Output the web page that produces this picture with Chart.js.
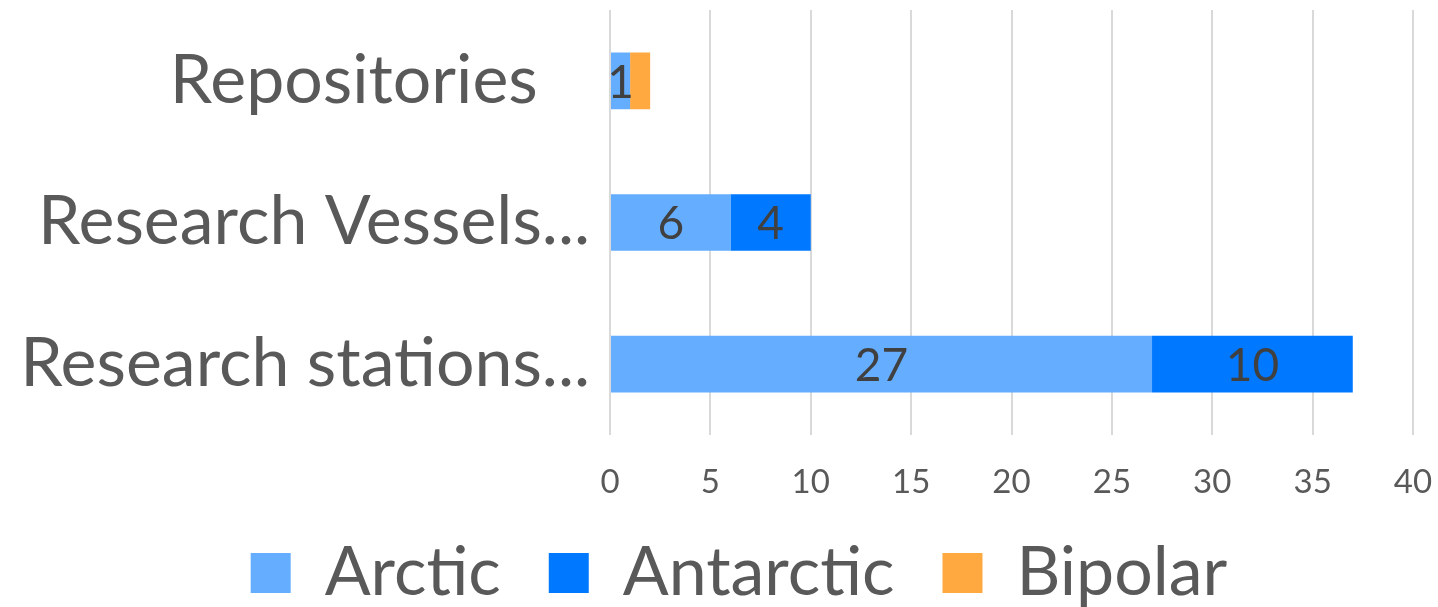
<!DOCTYPE html>
<html>
<head>
<meta charset="utf-8">
<script src="https://cdn.jsdelivr.net/npm/chart.js@4/dist/chart.umd.min.js"></script>
<style>
  body { margin: 0; background: #fff; }
  #wrap { width: 1438px; height: 607px; }
</style>
</head>
<body>
<div id="wrap"><canvas id="polarChart" width="1438" height="607"></canvas></div>
<script>
// Chart data
var categories = ['Repositories', 'Research Vessels...', 'Research stations...'];
var arcticValues = [1, 6, 27];
var antarcticValues = [0, 4, 10];
var bipolarValues = [1, 0, 0];
var xTicks = [0, 5, 10, 15, 20, 25, 30, 35, 40];

var FONT = 'Lato, "Open Sans", sans-serif';

// simple data labels drawn at the middle of each bar segment
var barLabels = {
    id: 'barLabels',
    afterDatasetsDraw: function(chart) {
        var ctx = chart.ctx;
        ctx.save();
        ctx.font = '46px ' + FONT;
        ctx.fillStyle = '#404040';
        ctx.textAlign = 'center';
        ctx.textBaseline = 'middle';
        chart.data.datasets.forEach(function(ds, i) {
            if (!ds.showLabels) return;
            chart.getDatasetMeta(i).data.forEach(function(bar, j) {
                var v = ds.data[j];
                if (!v) return;
                ctx.fillText(String(v), (bar.x + bar.base) / 2, bar.y + 2);
            });
        });
        ctx.restore();
    }
};

// nudge the legend a bit right / up, like the original
var legendNudge = {
    id: 'legendNudge',
    afterLayout: function(chart) {
        var lg = chart.legend;
        if (!lg) return;
        lg.left += 20; lg.right += 20;
        lg.top -= 21; lg.bottom -= 21;
    }
};

document.addEventListener('DOMContentLoaded', function() {
    var ctx = document.getElementById('polarChart').getContext('2d');

    new Chart(ctx, {
        type: 'bar',
        data: {
            labels: categories,
            datasets: [
                { label: 'Arctic', data: arcticValues, backgroundColor: '#65adff', showLabels: true },
                { label: 'Antarctic', data: antarcticValues, backgroundColor: '#0078ff', showLabels: true },
                { label: 'Bipolar', data: bipolarValues, backgroundColor: '#ffa940', showLabels: false }
            ]
        },
        options: {
            indexAxis: 'y',
            responsive: false,
            animation: false,
            categoryPercentage: 1,
            barPercentage: 0.4,
            layout: { padding: { top: 0, right: 0, bottom: -31, left: 0 } },
            scales: {
                x: {
                    stacked: true,
                    min: 0,
                    max: 40,
                    afterBuildTicks: function(scale) {
                        scale.ticks = xTicks.map(function(v) { return { value: v }; });
                    },
                    afterFit: function(scale) {
                        scale.height = 77;
                        scale.paddingLeft = 0;
                        scale.paddingRight = 25;
                    },
                    grid: { color: '#d9d9d9', lineWidth: 2, drawTicks: false },
                    border: { display: false },
                    ticks: { color: '#595959', font: { family: FONT, size: 33 }, padding: 28 }
                },
                y: {
                    stacked: true,
                    afterFit: function(scale) {
                        scale.width = 610;
                        scale.paddingTop = 10;
                        scale.paddingBottom = 0;
                    },
                    grid: { display: false },
                    border: { display: false },
                    ticks: {
                        color: '#595959',
                        font: { family: FONT, size: 68 },
                        padding: 12,
                        callback: function(value, index) {
                            var label = this.getLabelForValue(value);
                            // the first label sits a little left in the original
                            return index === 0 ? label + '\u00A0\u00A0\u00A0' : label;
                        }
                    }
                }
            },
            plugins: {
                legend: {
                    position: 'bottom',
                    labels: {
                        color: '#595959',
                        font: { family: FONT, size: 68 },
                        boxWidth: 40,
                        boxHeight: 40,
                        padding: 48
                    }
                },
                tooltip: { enabled: false }
            }
        },
        plugins: [barLabels, legendNudge]
    });
});
</script>
</body>
</html>
